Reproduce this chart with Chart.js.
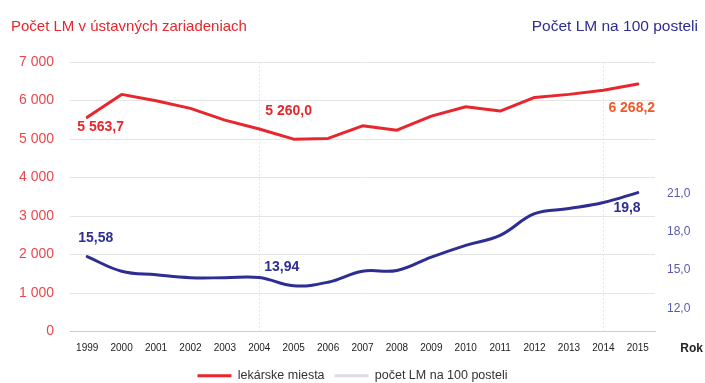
<!DOCTYPE html>
<html>
<head>
<meta charset="utf-8">
<title>Lekárske miesta</title>
<script src="https://cdn.jsdelivr.net/npm/chart.js@4/dist/chart.umd.min.js"></script>
<style>
  html, body { margin: 0; padding: 0; background: #ffffff; }
  #wrap { width: 705px; height: 383px; }
</style>
</head>
<body>
<div id="wrap"><canvas id="c" width="705" height="383"></canvas></div>
<script>
// Roky
const years = ['1999', '2000', '2001', '2002', '2003', '2004', '2005', '2006', '2007',
               '2008', '2009', '2010', '2011', '2012', '2013', '2014', '2015'];

// Počet lekárskych miest v ústavných zariadeniach
const doctorPosts = [5563.7, 6159, 5993, 5795, 5490, 5260.0, 4996, 5014, 5342,
                     5230, 5595, 5837, 5725, 6081, 6159, 6268.2, 6427];

// Počet LM na 100 postelí
const doctorsPer100Beds = [15.58, 14.44, 14.16, 13.93, 13.93, 13.94, 13.30, 13.58, 14.44,
                           14.50, 15.54, 16.46, 17.24, 18.93, 19.33, 19.8, 20.58];

// Hodnoty na osiach
const leftTicks = [0, 1000, 2000, 3000, 4000, 5000, 6000, 7000];
const rightTicks = [12, 15, 18, 21];

// Roky s popisom hodnoty
const labelledYears = ['1999', '2004', '2014'];

// Roky so zvislou pomocnou čiarou
const markedYears = ['2004', '2014'];

const FONT = "'Liberation Sans', Arial, sans-serif";
const RED = '#e8262d';
const BLUE = '#2d2d92';

// umiestnenie popisov voči bodu: [dx, dy], farba
const redLabelStyle = [
  { dx: -10, dy: 10, color: RED },
  { dx: 6, dy: -18, color: RED },
  { dx: 5, dy: 18, color: '#ef5a2a' }
];
const blueLabelStyle = [
  { dx: -9, dy: -18, color: BLUE },
  { dx: 5, dy: -10, color: BLUE },
  { dx: 10, dy: 6, color: BLUE }
];

function fmtThousands(v, dec) {
  const s = v.toFixed(dec);
  const [i, d] = s.split('.');
  const int = i.replace(/\B(?=(\d{3})+(?!\d))/g, ' ');
  return d !== undefined ? int + ',' + d : int;
}
function fmtPlain(v) {
  return String(v).replace('.', ',');
}

const decorPlugin = {
  id: 'decor',
  afterDatasetsDraw(chart) {
    const ctx = chart.ctx;
    const x = chart.scales.x;
    const yL = chart.scales.y;
    const yR = chart.scales.y2;
    ctx.save();
    ctx.font = 'bold 14px ' + FONT;
    ctx.textBaseline = 'middle';
    ctx.textAlign = 'left';
    labelledYears.forEach((yr, k) => {
      const i = years.indexOf(yr);
      const px = x.getPixelForValue(i);
      const rv = doctorPosts[i];
      const rs = redLabelStyle[k];
      ctx.fillStyle = rs.color;
      ctx.fillText(fmtThousands(rv, 1), px + rs.dx, yL.getPixelForValue(rv) + rs.dy);
      const bv = doctorsPer100Beds[i];
      const bs = blueLabelStyle[k];
      ctx.fillStyle = bs.color;
      ctx.fillText(fmtPlain(bv), px + bs.dx, yR.getPixelForValue(bv) + bs.dy);
    });
    ctx.restore();
  },
  afterDraw(chart) {
    const ctx = chart.ctx;
    ctx.save();
    ctx.textBaseline = 'middle';
    ctx.font = '15px ' + FONT;
    ctx.fillStyle = RED;
    ctx.textAlign = 'left';
    ctx.fillText('Počet LM v ústavných zariadeniach', 11, 27);
    ctx.fillStyle = BLUE;
    ctx.textAlign = 'right';
    ctx.font = '15.5px ' + FONT;
    ctx.fillText('Počet LM na 100 posteli', 698, 27);
    ctx.font = 'bold 12px ' + FONT;
    ctx.fillStyle = '#222';
    ctx.textAlign = 'right';
    ctx.fillText('Rok', 703, 349);
    ctx.restore();
  }
};

new Chart(document.getElementById('c'), {
  type: 'line',
  data: {
    labels: years,
    datasets: [
      {
        label: 'lekárske miesta',
        data: doctorPosts,
        yAxisID: 'y',
        borderColor: RED,
        backgroundColor: RED,
        borderWidth: 3,
        tension: 0,
        borderJoinStyle: 'round',
        borderCapStyle: 'round',
        pointRadius: 0,
        fill: false
      },
      {
        label: 'počet LM na 100 posteli',
        data: doctorsPer100Beds,
        yAxisID: 'y2',
        borderColor: BLUE,
        backgroundColor: BLUE,
        borderWidth: 3,
        tension: 0.4,
        borderCapStyle: 'round',
        pointRadius: 0,
        fill: false
      }
    ]
  },
  options: {
    responsive: false,
    animation: false,
    layout: { padding: { top: 62, left: 0, right: 0, bottom: -9 } },
    plugins: {
      tooltip: { enabled: false },
      legend: {
        position: 'bottom',
        labels: {
          font: { family: FONT, size: 12.5 },
          color: '#333',
          boxWidth: 34,
          boxHeight: 3,
          padding: 10,
          generateLabels: () => [
            { text: 'lekárske miesta', fillStyle: RED, strokeStyle: RED, lineWidth: 0, datasetIndex: 0, fontColor: '#333' },
            { text: 'počet LM na 100 posteli', fillStyle: '#dcdce6', strokeStyle: '#dcdce6', lineWidth: 0, datasetIndex: 1, fontColor: '#333' }
          ]
        }
      }
    },
    scales: {
      x: {
        type: 'category',
        offset: true,
        grid: {
          offset: false,
          drawTicks: false,
          lineWidth: 1,
          color: (c) => (c.tick && markedYears.includes(years[c.index])) ? '#e6e6e6' : 'rgba(0,0,0,0)'
        },
        border: { display: true, color: '#bcd0ee', dash: [2, 2], width: 1 },
        ticks: {
          autoSkip: false,
          maxRotation: 0,
          minRotation: 0,
          padding: 11,
          color: '#222',
          font: { family: FONT, size: 10 }
        },
        afterFit: (s) => { s.height = 28; }
      },
      y: {
        position: 'left',
        min: 0,
        max: 7000,
        afterBuildTicks: (s) => { s.ticks = leftTicks.map(v => ({ value: v })); },
        grid: {
          drawTicks: false,
          color: (c) => (c.tick && c.tick.value === 0) ? 'rgba(0,0,0,0)' : '#e4e4e4'
        },
        border: { display: false },
        ticks: {
          padding: 16,
          color: '#e8474c',
          font: { family: FONT, size: 14 },
          callback: (v) => fmtThousands(v, 0)
        },
        afterFit: (s) => { s.width = 70; }
      },
      y2: {
        position: 'right',
        min: 9.73,
        max: 30.78,
        afterBuildTicks: (s) => { s.ticks = rightTicks.map(v => ({ value: v })); },
        grid: { display: false, drawTicks: false },
        border: { display: false },
        ticks: {
          padding: 12,
          labelOffset: 6,
          color: '#5a5ab0',
          font: { family: FONT, size: 12 },
          callback: (v) => v.toFixed(1).replace('.', ',')
        },
        afterFit: (s) => { s.width = 50; }
      }
    }
  },
  plugins: [decorPlugin]
});
</script>
</body>
</html>
